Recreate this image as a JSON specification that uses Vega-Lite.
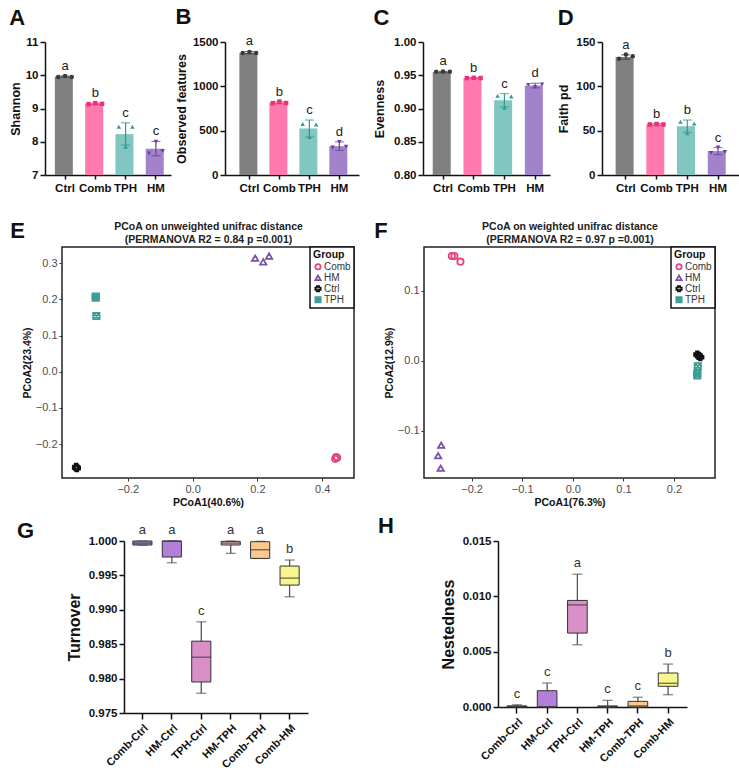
{
"$schema": "https://vega.github.io/schema/vega-lite/v6.json",
"padding": {"left": 0, "top": 6, "right": 0, "bottom": 0},
"config": {
  "font": "Liberation Sans",
  "view": {"stroke": null},
  "axis": {"grid": false, "labelOverlap": false, "domainColor": "#111", "tickColor": "#111", "labelColor": "#111", "titleColor": "#111", "labelFont": "Liberation Sans", "titleFont": "Liberation Sans"},
  "title": {"color": "#111", "fontWeight": "bold", "font": "Liberation Sans"},
  "legend": {"strokeWidth": 1.5}
},
"datasets": {
  "alpha": [
    {"metric":"Shannon","group":"Ctrl","mean":9.96,"lo":9.94,"hi":9.98,"letter":"a"},
    {"metric":"Shannon","group":"Comb","mean":9.14,"lo":9.12,"hi":9.16,"letter":"b"},
    {"metric":"Shannon","group":"TPH","mean":8.23,"lo":7.90,"hi":8.57,"letter":"c"},
    {"metric":"Shannon","group":"HM","mean":7.79,"lo":7.58,"hi":8.01,"letter":"c"},
    {"metric":"Observed","group":"Ctrl","mean":1380,"lo":1367,"hi":1393,"letter":"a"},
    {"metric":"Observed","group":"Comb","mean":815,"lo":805,"hi":825,"letter":"b"},
    {"metric":"Observed","group":"TPH","mean":525,"lo":430,"hi":620,"letter":"c"},
    {"metric":"Observed","group":"HM","mean":325,"lo":277,"hi":373,"letter":"d"},
    {"metric":"Evenness","group":"Ctrl","mean":0.9548,"lo":0.9538,"hi":0.9558,"letter":"a"},
    {"metric":"Evenness","group":"Comb","mean":0.9460,"lo":0.9455,"hi":0.9465,"letter":"b"},
    {"metric":"Evenness","group":"TPH","mean":0.9125,"lo":0.9025,"hi":0.9225,"letter":"c"},
    {"metric":"Evenness","group":"HM","mean":0.9345,"lo":0.9310,"hi":0.9380,"letter":"d"},
    {"metric":"Faith","group":"Ctrl","mean":133,"lo":130.5,"hi":135.5,"letter":"a"},
    {"metric":"Faith","group":"Comb","mean":57,"lo":56,"hi":58,"letter":"b"},
    {"metric":"Faith","group":"TPH","mean":55,"lo":48,"hi":62,"letter":"b"},
    {"metric":"Faith","group":"HM","mean":27,"lo":23,"hi":31,"letter":"c"}
  ],
  "pts": [
    {"metric":"Shannon","group":"Ctrl","rep":"L","value":9.95},{"metric":"Shannon","group":"Ctrl","rep":"M","value":9.98},{"metric":"Shannon","group":"Ctrl","rep":"R","value":9.95},
    {"metric":"Shannon","group":"Comb","rep":"L","value":9.13},{"metric":"Shannon","group":"Comb","rep":"M","value":9.16},{"metric":"Shannon","group":"Comb","rep":"R","value":9.14},
    {"metric":"Shannon","group":"TPH","rep":"L","value":8.45},{"metric":"Shannon","group":"TPH","rep":"M","value":7.85},{"metric":"Shannon","group":"TPH","rep":"R","value":8.45},
    {"metric":"Shannon","group":"HM","rep":"L","value":7.65},{"metric":"Shannon","group":"HM","rep":"M","value":8.0},{"metric":"Shannon","group":"HM","rep":"R","value":7.72},
    {"metric":"Observed","group":"Ctrl","rep":"L","value":1376},{"metric":"Observed","group":"Ctrl","rep":"M","value":1388},{"metric":"Observed","group":"Ctrl","rep":"R","value":1376},
    {"metric":"Observed","group":"Comb","rep":"L","value":810},{"metric":"Observed","group":"Comb","rep":"M","value":828},{"metric":"Observed","group":"Comb","rep":"R","value":812},
    {"metric":"Observed","group":"TPH","rep":"L","value":575},{"metric":"Observed","group":"TPH","rep":"M","value":427},{"metric":"Observed","group":"TPH","rep":"R","value":570},
    {"metric":"Observed","group":"HM","rep":"L","value":310},{"metric":"Observed","group":"HM","rep":"M","value":372},{"metric":"Observed","group":"HM","rep":"R","value":320},
    {"metric":"Evenness","group":"Ctrl","rep":"L","value":0.9552},{"metric":"Evenness","group":"Ctrl","rep":"M","value":0.9558},{"metric":"Evenness","group":"Ctrl","rep":"R","value":0.9552},
    {"metric":"Evenness","group":"Comb","rep":"L","value":0.9457},{"metric":"Evenness","group":"Comb","rep":"M","value":0.9462},{"metric":"Evenness","group":"Comb","rep":"R","value":0.9458},
    {"metric":"Evenness","group":"TPH","rep":"L","value":0.919},{"metric":"Evenness","group":"TPH","rep":"M","value":0.901},{"metric":"Evenness","group":"TPH","rep":"R","value":0.918},
    {"metric":"Evenness","group":"HM","rep":"L","value":0.9355},{"metric":"Evenness","group":"HM","rep":"M","value":0.932},{"metric":"Evenness","group":"HM","rep":"R","value":0.936},
    {"metric":"Faith","group":"Ctrl","rep":"L","value":131},{"metric":"Faith","group":"Ctrl","rep":"M","value":136},{"metric":"Faith","group":"Ctrl","rep":"R","value":134},
    {"metric":"Faith","group":"Comb","rep":"L","value":57},{"metric":"Faith","group":"Comb","rep":"M","value":57.5},{"metric":"Faith","group":"Comb","rep":"R","value":57},
    {"metric":"Faith","group":"TPH","rep":"L","value":60},{"metric":"Faith","group":"TPH","rep":"M","value":47},{"metric":"Faith","group":"TPH","rep":"R","value":58},
    {"metric":"Faith","group":"HM","rep":"L","value":25},{"metric":"Faith","group":"HM","rep":"M","value":31},{"metric":"Faith","group":"HM","rep":"R","value":26}
  ],
  "pcoaE": [
    {"Group":"Comb","PC1":0.446,"PC2":-0.238},{"Group":"Comb","PC1":0.440,"PC2":-0.241},{"Group":"Comb","PC1":0.443,"PC2":-0.236},
    {"Group":"HM","PC1":0.193,"PC2":0.314},{"Group":"HM","PC1":0.218,"PC2":0.304},{"Group":"HM","PC1":0.236,"PC2":0.320},
    {"Group":"Ctrl","PC1":-0.359,"PC2":-0.263},{"Group":"Ctrl","PC1":-0.357,"PC2":-0.267},{"Group":"Ctrl","PC1":-0.360,"PC2":-0.265},
    {"Group":"TPH","PC1":-0.299,"PC2":0.208},{"Group":"TPH","PC1":-0.299,"PC2":0.205},{"Group":"TPH","PC1":-0.297,"PC2":0.154}
  ],
  "pcoaF": [
    {"Group":"Comb","PC1":-0.239,"PC2":0.150},{"Group":"Comb","PC1":-0.234,"PC2":0.150},{"Group":"Comb","PC1":-0.222,"PC2":0.142},
    {"Group":"HM","PC1":-0.260,"PC2":-0.121},{"Group":"HM","PC1":-0.266,"PC2":-0.136},{"Group":"HM","PC1":-0.261,"PC2":-0.154},
    {"Group":"Ctrl","PC1":0.246,"PC2":0.009},{"Group":"Ctrl","PC1":0.249,"PC2":0.007},{"Group":"Ctrl","PC1":0.252,"PC2":0.005},
    {"Group":"TPH","PC1":0.247,"PC2":-0.008},{"Group":"TPH","PC1":0.246,"PC2":-0.018},{"Group":"TPH","PC1":0.246,"PC2":-0.021}
  ],
  "boxG": [
    {"pair":"Comb-Ctrl","min":0.99940,"q1":0.99942,"median":0.99970,"q3":1.0,"max":1.0,"letter":"a"},
    {"pair":"HM-Ctrl","min":0.99684,"q1":0.99767,"median":0.99998,"q3":1.0,"max":1.0,"letter":"a"},
    {"pair":"TPH-Ctrl","min":0.97787,"q1":0.97951,"median":0.98311,"q3":0.98544,"max":0.98825,"letter":"c"},
    {"pair":"HM-TPH","min":0.99820,"q1":0.99942,"median":0.99970,"q3":0.99995,"max":1.0,"letter":"a"},
    {"pair":"Comb-TPH","min":0.99747,"q1":0.99747,"median":0.99873,"q3":0.99990,"max":0.99995,"letter":"a"},
    {"pair":"Comb-HM","min":0.99189,"q1":0.99359,"median":0.99461,"q3":0.99636,"max":0.99723,"letter":"b"}
  ],
  "boxH": [
    {"pair":"Comb-Ctrl","min":0,"q1":0,"median":0.00005,"q3":0.0001,"max":0.0002,"letter":"c"},
    {"pair":"HM-Ctrl","min":0,"q1":0,"median":0.00002,"q3":0.00147,"max":0.00217,"letter":"c"},
    {"pair":"TPH-Ctrl","min":0.00562,"q1":0.00668,"median":0.00923,"q3":0.00963,"max":0.0120,"letter":"a"},
    {"pair":"HM-TPH","min":0,"q1":0,"median":0.00003,"q3":0.0001,"max":0.0006,"letter":"c"},
    {"pair":"Comb-TPH","min":0,"q1":0,"median":0.0001,"q3":0.00051,"max":0.00088,"letter":"c"},
    {"pair":"Comb-HM","min":0.00111,"q1":0.00187,"median":0.00214,"q3":0.00307,"max":0.00388,"letter":"b"}
  ]
},
"resolve": {"scale": {"color": "independent", "fill": "independent", "shape": "independent", "xOffset": "independent"}, "legend": {"color": "independent", "shape": "independent", "fill": "independent"}},
"columns": 1, "spacing": 24,
"concat": [
{
  "hconcat": [
  {"width": 1, "height": 1, "data": {"values": []}, "mark": {"type": "point", "opacity": 0}, "encoding": {}},
  {
    "hconcat": [
    {
      "title": {"text": "A", "fontSize": 22, "anchor": "start", "frame": "bounds", "offset": 6},
      "width": 126, "height": 133,
      "layer": [
        {"data": {"name": "alpha"}, "transform": [{"filter": "datum.metric === 'Shannon'"}], "mark": {"type": "bar"},
         "encoding": {
           "x": {"field": "group", "type": "nominal", "sort": ["Ctrl","Comb","TPH","HM"], "scale": {"paddingInner": 0.33, "paddingOuter": 0.245, "align": 0.665}, "axis": {"title": null, "labelAngle": 0, "labelFontSize": 11.5, "labelFontWeight": "bold", "domainWidth": 1.5, "tickWidth": 1.5, "tickSize": 4, "labelPadding": 3}},
           "y": {"field": "mean", "type": "quantitative", "scale": {"domain": [7, 11], "nice": false, "zero": false}, "axis": {"title": "Shannon", "values": [7,8,9,10,11], "format": "d", "tickCount": 12, "labelOverlap": false, "titleFontSize": 12.5, "titleFontWeight": "bold", "labelFontSize": 11.5, "labelFontWeight": "bold", "domainWidth": 1.5, "tickWidth": 1.5, "tickSize": 5, "titlePadding": 3}},
           "y2": {"datum": 7},
           "fill": {"field": "group", "type": "nominal", "scale": {"domain": ["Ctrl","Comb","TPH","HM"], "range": ["#808080","#ff79ac","#82c6c2","#a283cb"]}, "legend": null}
         }},
        {"data": {"name": "alpha"}, "transform": [{"filter": "datum.metric === 'Shannon'"}], "mark": {"type": "rule", "strokeWidth": 1.2},
         "encoding": {"x": {"field": "group", "type": "nominal", "sort": ["Ctrl","Comb","TPH","HM"]}, "y": {"field": "lo", "type": "quantitative"}, "y2": {"field": "hi"},
           "color": {"field": "group", "type": "nominal", "scale": {"domain": ["Ctrl","Comb","TPH","HM"], "range": ["#3a3a3a","#e8327a","#2c9c90","#6b3fa3"]}, "legend": null}}},
        {"data": {"name": "alpha"}, "transform": [{"filter": "datum.metric === 'Shannon'"}], "mark": {"type": "tick", "size": 9, "thickness": 1.2},
         "encoding": {"x": {"field": "group", "type": "nominal", "sort": ["Ctrl","Comb","TPH","HM"]}, "y": {"field": "lo", "type": "quantitative"}, "color": {"field": "group", "type": "nominal", "legend": null}}},
        {"data": {"name": "alpha"}, "transform": [{"filter": "datum.metric === 'Shannon'"}], "mark": {"type": "tick", "size": 9, "thickness": 1.2},
         "encoding": {"x": {"field": "group", "type": "nominal", "sort": ["Ctrl","Comb","TPH","HM"]}, "y": {"field": "hi", "type": "quantitative"}, "color": {"field": "group", "type": "nominal", "legend": null}}},
        {"data": {"name": "pts"}, "transform": [{"filter": "datum.metric === 'Shannon'"}], "mark": {"type": "point", "filled": true, "size": 20, "opacity": 1},
         "encoding": {"x": {"field": "group", "type": "nominal", "sort": ["Ctrl","Comb","TPH","HM"]}, "xOffset": {"field": "rep", "type": "nominal", "sort": ["L","M","R"]}, "y": {"field": "value", "type": "quantitative"},
           "color": {"field": "group", "type": "nominal", "legend": null},
           "shape": {"field": "group", "type": "nominal", "scale": {"domain": ["Ctrl","Comb","TPH","HM"], "range": ["circle","square","triangle-up","triangle-down"]}, "legend": null}}},
        {"data": {"name": "alpha"}, "transform": [{"filter": "datum.metric === 'Shannon'"}], "mark": {"type": "text", "baseline": "bottom", "dy": -3, "fontSize": 13, "color": "#222"},
         "encoding": {"x": {"field": "group", "type": "nominal", "sort": ["Ctrl","Comb","TPH","HM"]}, "y": {"field": "hi", "type": "quantitative"}, "text": {"field": "letter"}}}
      ]
    },
    {
      "hconcat": [
      {
        "title": {"text": "B", "fontSize": 22, "anchor": "start", "frame": "bounds", "offset": 6},
        "width": 134, "height": 133,
        "layer": [
          {"data": {"name": "alpha"}, "transform": [{"filter": "datum.metric === 'Observed'"}], "mark": {"type": "bar"},
           "encoding": {
             "x": {"field": "group", "type": "nominal", "sort": ["Ctrl","Comb","TPH","HM"], "scale": {"paddingInner": 0.33, "paddingOuter": 0.4, "align": 0.6}, "axis": {"title": null, "labelAngle": 0, "labelFontSize": 11.5, "labelFontWeight": "bold", "domainWidth": 1.5, "tickWidth": 1.5, "tickSize": 4, "labelPadding": 3}},
             "y": {"field": "mean", "type": "quantitative", "scale": {"domain": [0, 1500], "nice": false}, "axis": {"title": "Observed features", "values": [0,500,1000,1500], "tickCount": 12, "format": "d", "labelOverlap": false, "titleFontSize": 12.5, "titleFontWeight": "bold", "labelFontSize": 11.5, "labelFontWeight": "bold", "domainWidth": 1.5, "tickWidth": 1.5, "tickSize": 5, "titlePadding": 4}},
             "y2": {"datum": 0},
             "fill": {"field": "group", "type": "nominal", "scale": {"domain": ["Ctrl","Comb","TPH","HM"], "range": ["#808080","#ff79ac","#82c6c2","#a283cb"]}, "legend": null}
           }},
          {"data": {"name": "alpha"}, "transform": [{"filter": "datum.metric === 'Observed'"}], "mark": {"type": "rule", "strokeWidth": 1.2},
           "encoding": {"x": {"field": "group", "type": "nominal", "sort": ["Ctrl","Comb","TPH","HM"]}, "y": {"field": "lo", "type": "quantitative"}, "y2": {"field": "hi"},
             "color": {"field": "group", "type": "nominal", "scale": {"domain": ["Ctrl","Comb","TPH","HM"], "range": ["#3a3a3a","#e8327a","#2c9c90","#6b3fa3"]}, "legend": null}}},
          {"data": {"name": "alpha"}, "transform": [{"filter": "datum.metric === 'Observed'"}], "mark": {"type": "tick", "size": 9, "thickness": 1.2},
           "encoding": {"x": {"field": "group", "type": "nominal", "sort": ["Ctrl","Comb","TPH","HM"]}, "y": {"field": "lo", "type": "quantitative"}, "color": {"field": "group", "type": "nominal", "legend": null}}},
          {"data": {"name": "alpha"}, "transform": [{"filter": "datum.metric === 'Observed'"}], "mark": {"type": "tick", "size": 9, "thickness": 1.2},
           "encoding": {"x": {"field": "group", "type": "nominal", "sort": ["Ctrl","Comb","TPH","HM"]}, "y": {"field": "hi", "type": "quantitative"}, "color": {"field": "group", "type": "nominal", "legend": null}}},
          {"data": {"name": "pts"}, "transform": [{"filter": "datum.metric === 'Observed'"}], "mark": {"type": "point", "filled": true, "size": 20, "opacity": 1},
           "encoding": {"x": {"field": "group", "type": "nominal", "sort": ["Ctrl","Comb","TPH","HM"]}, "xOffset": {"field": "rep", "type": "nominal", "sort": ["L","M","R"]}, "y": {"field": "value", "type": "quantitative"},
             "color": {"field": "group", "type": "nominal", "legend": null},
             "shape": {"field": "group", "type": "nominal", "scale": {"domain": ["Ctrl","Comb","TPH","HM"], "range": ["circle","square","triangle-up","triangle-down"]}, "legend": null}}},
          {"data": {"name": "alpha"}, "transform": [{"filter": "datum.metric === 'Observed'"}], "mark": {"type": "text", "baseline": "bottom", "dy": -3, "fontSize": 13, "color": "#222"},
           "encoding": {"x": {"field": "group", "type": "nominal", "sort": ["Ctrl","Comb","TPH","HM"]}, "y": {"field": "hi", "type": "quantitative"}, "text": {"field": "letter"}}}
        ]
      },
      {
        "hconcat": [
        {
          "title": {"text": "C", "fontSize": 22, "anchor": "start", "frame": "bounds", "offset": 6},
          "width": 127, "height": 133,
          "layer": [
            {"data": {"name": "alpha"}, "transform": [{"filter": "datum.metric === 'Evenness'"}], "mark": {"type": "bar"},
             "encoding": {
               "x": {"field": "group", "type": "nominal", "sort": ["Ctrl","Comb","TPH","HM"], "scale": {"paddingInner": 0.33, "paddingOuter": 0.233, "align": 0.68}, "axis": {"title": null, "labelAngle": 0, "labelFontSize": 11.5, "labelFontWeight": "bold", "domainWidth": 1.5, "tickWidth": 1.5, "tickSize": 4, "labelPadding": 3}},
               "y": {"field": "mean", "type": "quantitative", "scale": {"domain": [0.8, 1.0], "nice": false, "zero": false}, "axis": {"title": "Evenness", "values": [0.8,0.85,0.9,0.95,1.0], "tickCount": 12, "format": ".2f", "labelOverlap": false, "titleFontSize": 12.5, "titleFontWeight": "bold", "labelFontSize": 11.5, "labelFontWeight": "bold", "domainWidth": 1.5, "tickWidth": 1.5, "tickSize": 5, "titlePadding": 7}},
               "y2": {"datum": 0.8},
               "fill": {"field": "group", "type": "nominal", "scale": {"domain": ["Ctrl","Comb","TPH","HM"], "range": ["#808080","#ff79ac","#82c6c2","#a283cb"]}, "legend": null}
             }},
            {"data": {"name": "alpha"}, "transform": [{"filter": "datum.metric === 'Evenness'"}], "mark": {"type": "rule", "strokeWidth": 1.2},
             "encoding": {"x": {"field": "group", "type": "nominal", "sort": ["Ctrl","Comb","TPH","HM"]}, "y": {"field": "lo", "type": "quantitative"}, "y2": {"field": "hi"},
               "color": {"field": "group", "type": "nominal", "scale": {"domain": ["Ctrl","Comb","TPH","HM"], "range": ["#3a3a3a","#e8327a","#2c9c90","#6b3fa3"]}, "legend": null}}},
            {"data": {"name": "alpha"}, "transform": [{"filter": "datum.metric === 'Evenness'"}], "mark": {"type": "tick", "size": 9, "thickness": 1.2},
             "encoding": {"x": {"field": "group", "type": "nominal", "sort": ["Ctrl","Comb","TPH","HM"]}, "y": {"field": "lo", "type": "quantitative"}, "color": {"field": "group", "type": "nominal", "legend": null}}},
            {"data": {"name": "alpha"}, "transform": [{"filter": "datum.metric === 'Evenness'"}], "mark": {"type": "tick", "size": 9, "thickness": 1.2},
             "encoding": {"x": {"field": "group", "type": "nominal", "sort": ["Ctrl","Comb","TPH","HM"]}, "y": {"field": "hi", "type": "quantitative"}, "color": {"field": "group", "type": "nominal", "legend": null}}},
            {"data": {"name": "pts"}, "transform": [{"filter": "datum.metric === 'Evenness'"}], "mark": {"type": "point", "filled": true, "size": 20, "opacity": 1},
             "encoding": {"x": {"field": "group", "type": "nominal", "sort": ["Ctrl","Comb","TPH","HM"]}, "xOffset": {"field": "rep", "type": "nominal", "sort": ["L","M","R"]}, "y": {"field": "value", "type": "quantitative"},
               "color": {"field": "group", "type": "nominal", "legend": null},
               "shape": {"field": "group", "type": "nominal", "scale": {"domain": ["Ctrl","Comb","TPH","HM"], "range": ["circle","square","triangle-up","triangle-down"]}, "legend": null}}},
            {"data": {"name": "alpha"}, "transform": [{"filter": "datum.metric === 'Evenness'"}], "mark": {"type": "text", "baseline": "bottom", "dy": -3, "fontSize": 13, "color": "#222"},
             "encoding": {"x": {"field": "group", "type": "nominal", "sort": ["Ctrl","Comb","TPH","HM"]}, "y": {"field": "hi", "type": "quantitative"}, "text": {"field": "letter"}}}
          ]
        },
        {
          "title": {"text": "D", "fontSize": 22, "anchor": "start", "frame": "bounds", "offset": 6},
          "width": 137, "height": 133,
          "layer": [
            {"data": {"name": "alpha"}, "transform": [{"filter": "datum.metric === 'Faith'"}], "mark": {"type": "bar"},
             "encoding": {
               "x": {"field": "group", "type": "nominal", "sort": ["Ctrl","Comb","TPH","HM"], "scale": {"paddingInner": 0.33, "paddingOuter": 0.396, "align": 0.56}, "axis": {"title": null, "labelAngle": 0, "labelFontSize": 11.5, "labelFontWeight": "bold", "domainWidth": 1.5, "tickWidth": 1.5, "tickSize": 4, "labelPadding": 3}},
               "y": {"field": "mean", "type": "quantitative", "scale": {"domain": [0, 150], "nice": false}, "axis": {"title": "Faith pd", "values": [0,50,100,150], "tickCount": 12, "labelOverlap": false, "titleFontSize": 12.5, "titleFontWeight": "bold", "labelFontSize": 11.5, "labelFontWeight": "bold", "domainWidth": 1.5, "tickWidth": 1.5, "tickSize": 5, "titlePadding": 5}},
               "y2": {"datum": 0},
               "fill": {"field": "group", "type": "nominal", "scale": {"domain": ["Ctrl","Comb","TPH","HM"], "range": ["#808080","#ff79ac","#82c6c2","#a283cb"]}, "legend": null}
             }},
            {"data": {"name": "alpha"}, "transform": [{"filter": "datum.metric === 'Faith'"}], "mark": {"type": "rule", "strokeWidth": 1.2},
             "encoding": {"x": {"field": "group", "type": "nominal", "sort": ["Ctrl","Comb","TPH","HM"]}, "y": {"field": "lo", "type": "quantitative"}, "y2": {"field": "hi"},
               "color": {"field": "group", "type": "nominal", "scale": {"domain": ["Ctrl","Comb","TPH","HM"], "range": ["#3a3a3a","#e8327a","#2c9c90","#6b3fa3"]}, "legend": null}}},
            {"data": {"name": "alpha"}, "transform": [{"filter": "datum.metric === 'Faith'"}], "mark": {"type": "tick", "size": 9, "thickness": 1.2},
             "encoding": {"x": {"field": "group", "type": "nominal", "sort": ["Ctrl","Comb","TPH","HM"]}, "y": {"field": "lo", "type": "quantitative"}, "color": {"field": "group", "type": "nominal", "legend": null}}},
            {"data": {"name": "alpha"}, "transform": [{"filter": "datum.metric === 'Faith'"}], "mark": {"type": "tick", "size": 9, "thickness": 1.2},
             "encoding": {"x": {"field": "group", "type": "nominal", "sort": ["Ctrl","Comb","TPH","HM"]}, "y": {"field": "hi", "type": "quantitative"}, "color": {"field": "group", "type": "nominal", "legend": null}}},
            {"data": {"name": "pts"}, "transform": [{"filter": "datum.metric === 'Faith'"}], "mark": {"type": "point", "filled": true, "size": 20, "opacity": 1},
             "encoding": {"x": {"field": "group", "type": "nominal", "sort": ["Ctrl","Comb","TPH","HM"]}, "xOffset": {"field": "rep", "type": "nominal", "sort": ["L","M","R"]}, "y": {"field": "value", "type": "quantitative"},
               "color": {"field": "group", "type": "nominal", "legend": null},
               "shape": {"field": "group", "type": "nominal", "scale": {"domain": ["Ctrl","Comb","TPH","HM"], "range": ["circle","square","triangle-up","triangle-down"]}, "legend": null}}},
            {"data": {"name": "alpha"}, "transform": [{"filter": "datum.metric === 'Faith'"}], "mark": {"type": "text", "baseline": "bottom", "dy": -3, "fontSize": 13, "color": "#222"},
             "encoding": {"x": {"field": "group", "type": "nominal", "sort": ["Ctrl","Comb","TPH","HM"]}, "y": {"field": "hi", "type": "quantitative"}, "text": {"field": "letter"}}}
          ]
        }
        ],
        "spacing": 7,
        "resolve": {"scale": {"color": "independent", "fill": "independent", "shape": "independent", "xOffset": "independent"}, "legend": {"color": "independent", "shape": "independent", "fill": "independent"}}
      }
      ],
      "spacing": 14,
      "resolve": {"scale": {"color": "independent", "fill": "independent", "shape": "independent", "xOffset": "independent"}, "legend": {"color": "independent", "shape": "independent", "fill": "independent"}}
    }
    ],
    "spacing": 4,
    "resolve": {"scale": {"color": "independent", "fill": "independent", "shape": "independent", "xOffset": "independent"}, "legend": {"color": "independent", "shape": "independent", "fill": "independent"}}
  }
  ],
  "spacing": 8,
  "resolve": {"scale": {"color": "independent", "fill": "independent", "shape": "independent", "xOffset": "independent"}, "legend": {"color": "independent", "shape": "independent", "fill": "independent"}}
},
{
  "columns": 1, "spacing": 6,
  "resolve": {"scale": {"color": "independent", "fill": "independent", "shape": "independent", "xOffset": "independent"}, "legend": {"color": "independent", "shape": "independent", "fill": "independent"}},
  "concat": [
  {
    "hconcat": [
    {"width": 1, "height": 1, "data": {"values": []}, "mark": {"type": "point", "opacity": 0}, "encoding": {}},
    {
      "hconcat": [
      {
        "title": {"text": "E", "fontSize": 22, "anchor": "start", "frame": "bounds", "offset": -21, "dx": -12},
        "width": 292, "height": 231,
        "view": {"stroke": "#222", "strokeWidth": 1.5},
        "resolve": {"axis": {"x": "independent"}},
        "layer": [
          {"mark": {"type": "rule", "color": "#b5b5b5", "strokeWidth": 1, "strokeDash": [6,3,1,3]},
           "encoding": {"x": {"datum": 0, "type": "quantitative", "axis": {"orient": "top", "title": ["PCoA on unweighted unifrac distance", "(PERMANOVA R2 = 0.84 p =0.001)"], "labels": false, "ticks": false, "domain": false, "titleFontSize": 10.5, "titleFontWeight": "bold", "titleColor": "#222", "titlePadding": 3, "titleLineHeight": 12.5}}}},
          {"mark": {"type": "rule", "color": "#b5b5b5", "strokeWidth": 1, "strokeDash": [6,3,1,3]},
           "encoding": {"y": {"datum": 0, "type": "quantitative"}}},
          {"data": {"name": "pcoaE"}, "mark": {"type": "point", "filled": false, "strokeWidth": 1.8, "size": 40, "opacity": 1},
           "encoding": {
             "x": {"field": "PC1", "type": "quantitative", "scale": {"domain": [-0.403, 0.498], "nice": false, "zero": false}, "axis": {"title": "PCoA1(40.6%)", "values": [-0.2, 0, 0.2, 0.4], "tickCount": 12, "format": ".1f", "labelOverlap": false, "domain": false, "tickColor": "#333", "tickSize": 3, "labelColor": "#4d4d4d", "labelFontSize": 11, "titleFontSize": 10.5, "titleFontWeight": "bold", "titlePadding": 3, "labelPadding": 2}},
             "y": {"field": "PC2", "type": "quantitative", "scale": {"domain": [-0.294, 0.345], "nice": false, "zero": false}, "axis": {"title": "PCoA2(23.4%)", "values": [-0.2, -0.1, 0, 0.1, 0.2, 0.3], "tickCount": 12, "format": ".1f", "labelOverlap": false, "domain": false, "tickColor": "#333", "tickSize": 3, "labelColor": "#4d4d4d", "labelFontSize": 11, "titleFontSize": 10.5, "titleFontWeight": "bold", "titlePadding": 3, "labelPadding": 2}},
             "color": {"field": "Group", "type": "nominal", "scale": {"domain": ["Comb","HM","Ctrl","TPH"], "range": ["#e8447c","#7d52a9","#111111","#3d9e98"]},
               "legend": {"title": "Group", "orient": "top-right", "offset": 0, "strokeColor": "#111", "fillColor": "white", "padding": 3, "titleFontSize": 10.5, "titleFontWeight": "bold", "titleColor": "#111", "labelFontSize": 10, "labelColor": "#333", "symbolSize": 28, "symbolStrokeWidth": 1.8, "rowPadding": 0, "clipHeight": 10.5, "labelOffset": 1, "titlePadding": 1}},
             "shape": {"field": "Group", "type": "nominal", "scale": {"domain": ["Comb","HM","Ctrl","TPH"], "range": ["circle","triangle-up","cross","M-1,-1L1,-1L1,1L-1,1ZM-1,-1L1,1M1,-1L-1,1"]},
               "legend": {"title": "Group", "orient": "top-right", "offset": 0, "strokeColor": "#111", "fillColor": "white", "padding": 3, "titleFontSize": 10.5, "titleFontWeight": "bold", "titleColor": "#111", "labelFontSize": 10, "labelColor": "#333", "symbolSize": 28, "symbolStrokeWidth": 1.8, "rowPadding": 0, "clipHeight": 10.5, "labelOffset": 1, "titlePadding": 1}}
           }}
        ]
      },
      {
        "title": {"text": "F", "fontSize": 22, "anchor": "start", "frame": "bounds", "offset": -21, "dx": -10},
        "width": 291, "height": 231,
        "view": {"stroke": "#222", "strokeWidth": 1.5},
        "resolve": {"axis": {"x": "independent"}},
        "layer": [
          {"mark": {"type": "rule", "color": "#b5b5b5", "strokeWidth": 1, "strokeDash": [6,3,1,3]},
           "encoding": {"x": {"datum": 0, "type": "quantitative", "axis": {"orient": "top", "title": ["PCoA on weighted unifrac distance", "(PERMANOVA R2 = 0.97 p =0.001)"], "labels": false, "ticks": false, "domain": false, "titleFontSize": 10.5, "titleFontWeight": "bold", "titleColor": "#222", "titlePadding": 3, "titleLineHeight": 12.5}}}},
          {"mark": {"type": "rule", "color": "#b5b5b5", "strokeWidth": 1, "strokeDash": [6,3,1,3]},
           "encoding": {"y": {"datum": 0, "type": "quantitative"}}},
          {"data": {"name": "pcoaF"}, "mark": {"type": "point", "filled": false, "strokeWidth": 1.8, "size": 40, "opacity": 1},
           "encoding": {
             "x": {"field": "PC1", "type": "quantitative", "scale": {"domain": [-0.294, 0.281], "nice": false, "zero": false}, "axis": {"title": "PCoA1(76.3%)", "values": [-0.2, -0.1, 0, 0.1, 0.2], "tickCount": 12, "format": ".1f", "labelOverlap": false, "domain": false, "tickColor": "#333", "tickSize": 3, "labelColor": "#4d4d4d", "labelFontSize": 11, "titleFontSize": 10.5, "titleFontWeight": "bold", "titlePadding": 3, "labelPadding": 2}},
             "y": {"field": "PC2", "type": "quantitative", "scale": {"domain": [-0.168, 0.163], "nice": false, "zero": false}, "axis": {"title": "PCoA2(12.9%)", "values": [-0.1, 0, 0.1], "tickCount": 12, "format": ".1f", "labelOverlap": false, "domain": false, "tickColor": "#333", "tickSize": 3, "labelColor": "#4d4d4d", "labelFontSize": 11, "titleFontSize": 10.5, "titleFontWeight": "bold", "titlePadding": 3, "labelPadding": 2}},
             "color": {"field": "Group", "type": "nominal", "scale": {"domain": ["Comb","HM","Ctrl","TPH"], "range": ["#e8447c","#7d52a9","#111111","#3d9e98"]},
               "legend": {"title": "Group", "orient": "top-right", "offset": 0, "strokeColor": "#111", "fillColor": "white", "padding": 3, "titleFontSize": 10.5, "titleFontWeight": "bold", "titleColor": "#111", "labelFontSize": 10, "labelColor": "#333", "symbolSize": 28, "symbolStrokeWidth": 1.8, "rowPadding": 0, "clipHeight": 10.5, "labelOffset": 1, "titlePadding": 1}},
             "shape": {"field": "Group", "type": "nominal", "scale": {"domain": ["Comb","HM","Ctrl","TPH"], "range": ["circle","triangle-up","cross","M-1,-1L1,-1L1,1L-1,1ZM-1,-1L1,1M1,-1L-1,1"]},
               "legend": {"title": "Group", "orient": "top-right", "offset": 0, "strokeColor": "#111", "fillColor": "white", "padding": 3, "titleFontSize": 10.5, "titleFontWeight": "bold", "titleColor": "#111", "labelFontSize": 10, "labelColor": "#333", "symbolSize": 28, "symbolStrokeWidth": 1.8, "rowPadding": 0, "clipHeight": 10.5, "labelOffset": 1, "titlePadding": 1}}
           }}
        ]
      }
      ],
      "spacing": 17,
      "resolve": {"scale": {"color": "independent", "fill": "independent", "shape": "independent", "xOffset": "independent"}, "legend": {"color": "independent", "shape": "independent", "fill": "independent"}}
    }
    ],
    "spacing": 8,
    "resolve": {"scale": {"color": "independent", "fill": "independent", "shape": "independent", "xOffset": "independent"}, "legend": {"color": "independent", "shape": "independent", "fill": "independent"}}
  },
  {
    "hconcat": [
    {"width": 1, "height": 1, "data": {"values": []}, "mark": {"type": "point", "opacity": 0}, "encoding": {}},
    {
      "hconcat": [
      {
        "title": {"text": "G", "fontSize": 22, "anchor": "start", "frame": "group", "offset": -19, "dx": -107},
        "width": 184, "height": 172,
        "data": {"name": "boxG"},
        "encoding": {"x": {"field": "pair", "type": "nominal", "sort": ["Comb-Ctrl","HM-Ctrl","TPH-Ctrl","HM-TPH","Comb-TPH","Comb-HM"], "scale": {"paddingInner": 0.35, "paddingOuter": 0.3}, "axis": {"title": null, "labelAngle": -45, "labelFontSize": 11, "labelFontWeight": "bold", "domainWidth": 1.5, "tickWidth": 1.5, "tickSize": 6, "labelPadding": 3}}},
        "layer": [
          {"mark": {"type": "rule", "color": "#555", "strokeWidth": 1.3},
           "encoding": {"y": {"field": "min", "type": "quantitative", "scale": {"domain": [0.975, 1.0], "nice": false, "zero": false}, "axis": {"title": "Turnover", "values": [0.975, 0.98, 0.985, 0.99, 0.995, 1.0], "tickCount": 12, "format": ".3f", "labelOverlap": false, "titleFontSize": 16, "titleFontWeight": "bold", "labelFontSize": 11.5, "labelFontWeight": "bold", "domainWidth": 1.5, "tickWidth": 1.5, "tickSize": 5, "titlePadding": 6}}, "y2": {"field": "max"}}},
          {"mark": {"type": "tick", "color": "#555", "size": 10, "thickness": 1.3}, "encoding": {"y": {"field": "min", "type": "quantitative"}}},
          {"mark": {"type": "tick", "color": "#555", "size": 10, "thickness": 1.3}, "encoding": {"y": {"field": "max", "type": "quantitative"}}},
          {"mark": {"type": "bar", "stroke": "#333", "strokeWidth": 1},
           "encoding": {"y": {"field": "q1", "type": "quantitative"}, "y2": {"field": "q3"},
             "fill": {"field": "pair", "type": "nominal", "scale": {"domain": ["Comb-Ctrl","HM-Ctrl","TPH-Ctrl","HM-TPH","Comb-TPH","Comb-HM"], "range": ["#8e90d2","#b47fd8","#d990c9","#f1b1b4","#fbc98f","#f6f58e"]}, "legend": null}}},
          {"mark": {"type": "tick", "color": "#333", "size": 19, "thickness": 1.3}, "encoding": {"y": {"field": "median", "type": "quantitative"}}},
          {"mark": {"type": "text", "baseline": "bottom", "dy": -4, "fontSize": 13, "color": "#333"}, "encoding": {"y": {"field": "max", "type": "quantitative"}, "text": {"field": "letter"}}}
        ]
      },
      {
        "title": {"text": "H", "fontSize": 22, "anchor": "start", "frame": "group", "offset": -3, "dx": -120},
        "width": 189, "height": 166,
        "data": {"name": "boxH"},
        "encoding": {"x": {"field": "pair", "type": "nominal", "sort": ["Comb-Ctrl","HM-Ctrl","TPH-Ctrl","HM-TPH","Comb-TPH","Comb-HM"], "scale": {"paddingInner": 0.35, "paddingOuter": 0.3}, "axis": {"title": null, "labelAngle": -45, "labelFontSize": 11, "labelFontWeight": "bold", "domainWidth": 1.5, "tickWidth": 1.5, "tickSize": 6, "labelPadding": 3}}},
        "layer": [
          {"mark": {"type": "rule", "color": "#555", "strokeWidth": 1.3},
           "encoding": {"y": {"field": "min", "type": "quantitative", "scale": {"domain": [0, 0.015], "nice": false}, "axis": {"title": "Nestedness", "values": [0, 0.005, 0.01, 0.015], "tickCount": 12, "format": ".3f", "labelOverlap": false, "titleFontSize": 16, "titleFontWeight": "bold", "labelFontSize": 11.5, "labelFontWeight": "bold", "domainWidth": 1.5, "tickWidth": 1.5, "tickSize": 5, "titlePadding": 6}}, "y2": {"field": "max"}}},
          {"mark": {"type": "tick", "color": "#555", "size": 10, "thickness": 1.3}, "encoding": {"y": {"field": "min", "type": "quantitative"}}},
          {"mark": {"type": "tick", "color": "#555", "size": 10, "thickness": 1.3}, "encoding": {"y": {"field": "max", "type": "quantitative"}}},
          {"mark": {"type": "bar", "stroke": "#333", "strokeWidth": 1},
           "encoding": {"y": {"field": "q1", "type": "quantitative"}, "y2": {"field": "q3"},
             "fill": {"field": "pair", "type": "nominal", "scale": {"domain": ["Comb-Ctrl","HM-Ctrl","TPH-Ctrl","HM-TPH","Comb-TPH","Comb-HM"], "range": ["#8e90d2","#b47fd8","#d990c9","#f1b1b4","#fbc98f","#f6f58e"]}, "legend": null}}},
          {"mark": {"type": "tick", "color": "#333", "size": 19, "thickness": 1.3}, "encoding": {"y": {"field": "median", "type": "quantitative"}}},
          {"mark": {"type": "text", "baseline": "bottom", "dy": -4, "fontSize": 13, "color": "#333"}, "encoding": {"y": {"field": "max", "type": "quantitative"}, "text": {"field": "letter"}}}
        ]
      }
      ],
      "spacing": 70,
      "resolve": {"scale": {"color": "independent", "fill": "independent", "shape": "independent", "xOffset": "independent"}, "legend": {"color": "independent", "shape": "independent", "fill": "independent"}}
    }
    ],
    "spacing": 16,
    "resolve": {"scale": {"color": "independent", "fill": "independent", "shape": "independent", "xOffset": "independent"}, "legend": {"color": "independent", "shape": "independent", "fill": "independent"}}
  }
  ]
}
]
}
